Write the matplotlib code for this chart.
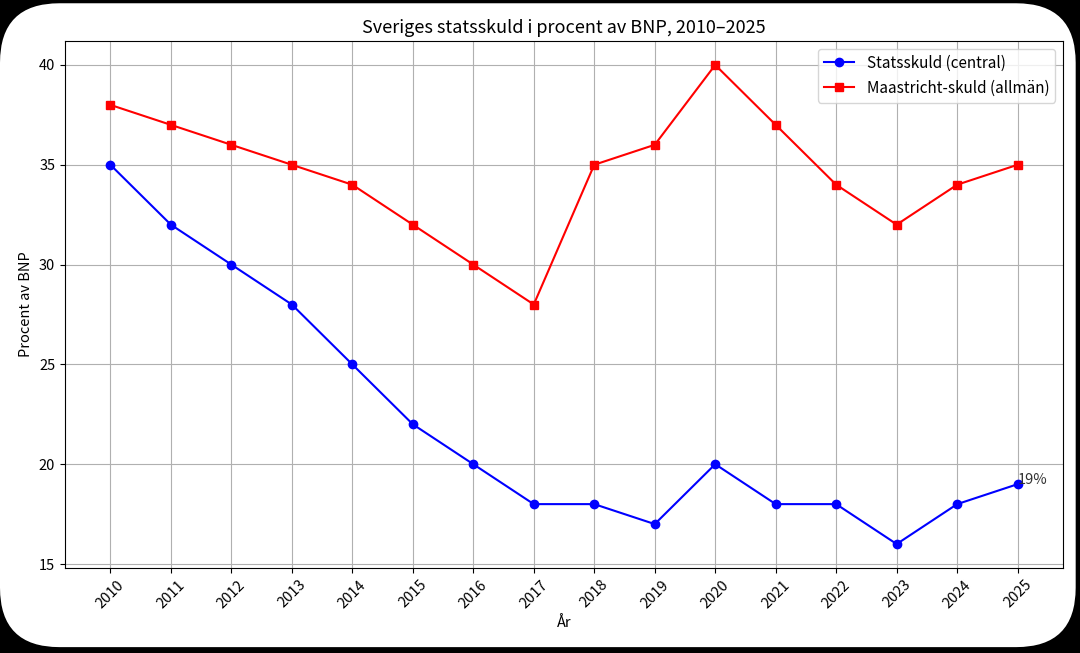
import matplotlib
matplotlib.use('Agg')
import matplotlib.pyplot as plt
from matplotlib.patches import FancyBboxPatch

plt.rcParams['font.family'] = ['Noto Sans CJK SC', 'DejaVu Sans']

# data
years = list(range(2010, 2026))
statsskuld = [35, 32, 30, 28, 25, 22, 20, 18, 18, 17, 20, 18, 18, 16, 18, 19]
maastricht = [38, 37, 36, 35, 34, 32, 30, 28, 35, 36, 40, 37, 34, 32, 34, 35]

fig = plt.figure(figsize=(10.8, 6.53), dpi=100, facecolor='black')

# white rounded card behind the chart
card = FancyBboxPatch((0.0, 0.009), 0.996, 0.986,
                      boxstyle='round,pad=0,rounding_size=0.055',
                      transform=fig.transFigure, facecolor='white',
                      edgecolor='none', mutation_aspect=1080 / 653, zorder=-10)
fig.patches.append(card)

ax = fig.add_axes([65 / 1080, 1 - 568 / 653, (1063 - 65) / 1080, (568 - 41) / 653])
ax.set_zorder(5)
ax.plot(years, statsskuld, color='blue', marker='o', label='Statsskuld (central)')
ax.plot(years, maastricht, color='red', marker='s', label='Maastricht-skuld (allmän)')
ax.text(years[-1], statsskuld[-1], f'{statsskuld[-1]}%', fontsize=10.5, color='#333333')

ax.set_title('Sveriges statsskuld i procent av BNP, 2010–2025', fontsize=13)
ax.set_xlabel('År', fontsize=10.5)
ax.set_ylabel('Procent av BNP', fontsize=10.5)
ax.set_xticks(years)
ax.set_xticklabels([str(y) for y in years], rotation=45)
ax.tick_params(labelsize=10.5)
ax.grid(True)
ax.legend(loc='upper right', fontsize=11)

fig.savefig('out.png', dpi=100, facecolor=fig.get_facecolor())
